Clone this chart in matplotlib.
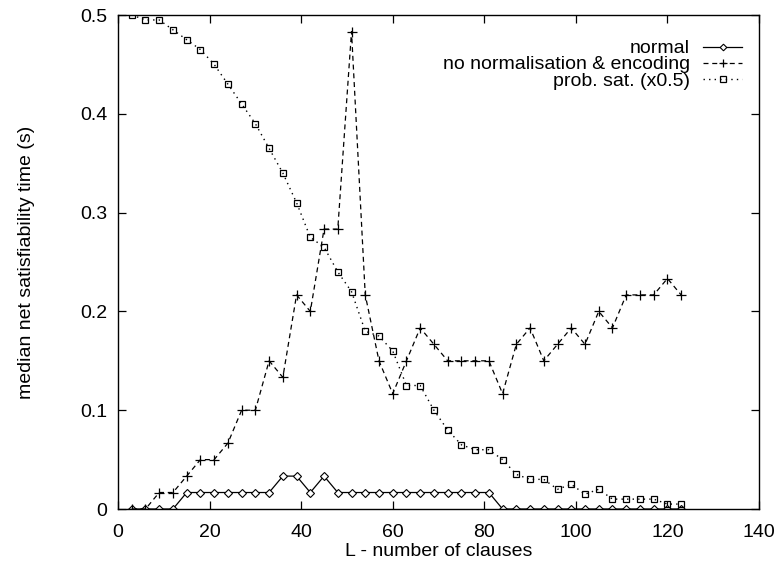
import matplotlib
matplotlib.use("Agg")
import matplotlib.pyplot as plt
from matplotlib.ticker import FuncFormatter

plt.rcParams['font.family'] = ['Liberation Sans', 'DejaVu Sans']

# number of clauses
clauses = [3, 6, 9, 12, 15, 18, 21, 24, 27, 30, 33, 36, 39, 42, 45, 48, 51, 54,
           57, 60, 63, 66, 69, 72, 75, 78, 81, 84, 87, 90, 93, 96, 99, 102, 105,
           108, 111, 114, 117, 120, 123]

# median net satisfiability time (s)
normal = [0, 0, 0, 0, 0.0167, 0.0167, 0.0167, 0.0167, 0.0167, 0.0167, 0.0167,
          0.0333, 0.0333, 0.0167, 0.0333, 0.0167, 0.0167, 0.0167, 0.0167, 0.0167,
          0.0167, 0.0167, 0.0167, 0.0167, 0.0167, 0.0167, 0.0167, 0, 0, 0, 0, 0,
          0, 0, 0, 0, 0, 0, 0, 0, 0]

no_norm = [0, 0, 0.0167, 0.0167, 0.0333, 0.05, 0.05, 0.0667, 0.1, 0.1, 0.15,
           0.1333, 0.2167, 0.2, 0.2833, 0.2833, 0.4833, 0.2167, 0.15, 0.1167,
           0.15, 0.1833, 0.1667, 0.15, 0.15, 0.15, 0.15, 0.1167, 0.1667, 0.1833,
           0.15, 0.1667, 0.1833, 0.1667, 0.2, 0.1833, 0.2167, 0.2167, 0.2167,
           0.2333, 0.2167]

prob_sat = [0.5, 0.495, 0.495, 0.485, 0.475, 0.465, 0.45, 0.43, 0.41, 0.39,
            0.365, 0.34, 0.31, 0.275, 0.265, 0.24, 0.22, 0.18, 0.175, 0.16,
            0.125, 0.125, 0.1, 0.08, 0.065, 0.06, 0.06, 0.05, 0.035, 0.03, 0.03,
            0.02, 0.025, 0.015, 0.02, 0.01, 0.01, 0.01, 0.01, 0.005, 0.005]

labels = ["normal", "no normalisation & encoding", "prob. sat. (x0.5)"]

FS = 14

fig = plt.figure(figsize=(7.79, 5.64), dpi=100)
ax = fig.add_axes([0.1515, 0.0975, 0.8228, 0.8759])

ax.plot(clauses, normal, color='black', linestyle='-', linewidth=0.9,
        marker='D', markersize=4.2, markerfacecolor='white',
        markeredgecolor='black', markeredgewidth=0.8, label=labels[0])
ax.plot(clauses, no_norm, color='black', linestyle=(0, (4, 3)), linewidth=0.9,
        marker='+', markersize=7, markeredgewidth=0.9, label=labels[1])
ax.plot(clauses, prob_sat, color='black', linestyle=(0, (1, 3)), linewidth=1.0,
        marker='s', markersize=5, markerfacecolor='none',
        markeredgecolor='black', markeredgewidth=0.9, label=labels[2])

ax.set_xlim(0, 140)
ax.set_ylim(0, 0.5)
ax.set_xticks(range(0, 141, 20))
ax.set_yticks([0, 0.1, 0.2, 0.3, 0.4, 0.5])
ax.yaxis.set_major_formatter(FuncFormatter(lambda v, p: f"{v:g}"))

ax.tick_params(direction='in', top=True, right=True, length=6, width=0.9,
               labelsize=FS, pad=7.5)
ax.tick_params(axis='x', pad=10.5)
for s in ax.spines.values():
    s.set_linewidth(1.0)

ax.set_xlabel("L - number of clauses", fontsize=FS, labelpad=1.5)
ax.set_ylabel("median net satisfiability time (s)", fontsize=FS, labelpad=33)

leg = ax.legend(loc='upper right', bbox_to_anchor=(1 - 9 / 641, 1 - 17 / 494),
                markerfirst=False, frameon=False, markerscale=0.8,
                fontsize=FS, handlelength=2.0, handletextpad=0.7,
                labelspacing=-0.08, borderaxespad=0.0, borderpad=0.4)

fig.savefig("out.png", dpi=100)
